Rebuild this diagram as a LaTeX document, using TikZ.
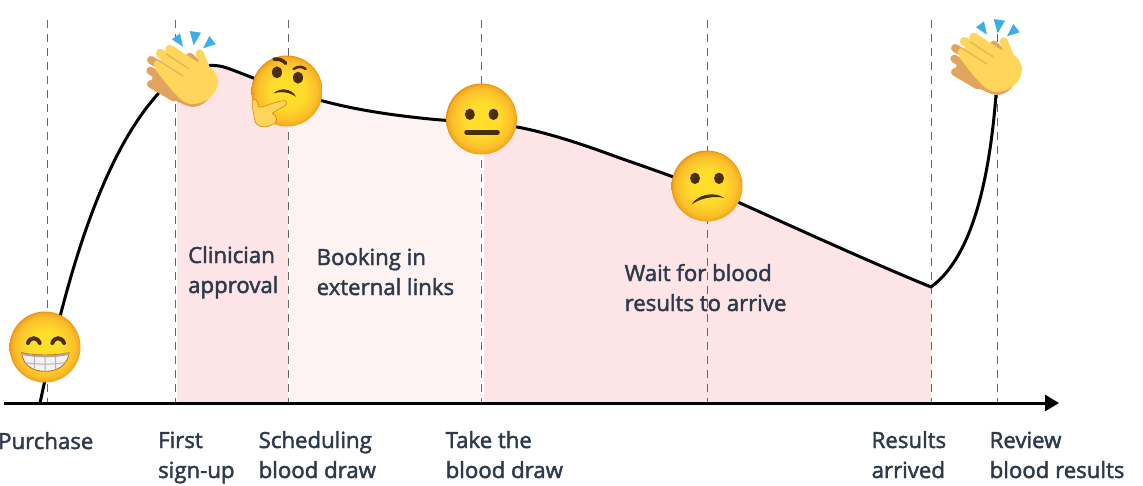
\documentclass[tikz,border=0pt]{standalone}
\usepackage{fontspec}
\setmainfont{Open Sans}[FakeBold=2]
\usepackage{xcolor}
\usepackage{tikz}
\usetikzlibrary{arrows.meta}
\definecolor{inkslate}{HTML}{2D3A4B}
\definecolor{pinkband}{HTML}{FDE4E6}
\definecolor{paleband}{HTML}{FDF3F3}
\definecolor{browndark}{HTML}{4A2F0E}
\definecolor{handfront}{HTML}{FFD65A}
\definecolor{handback}{HTML}{E0A45E}
\definecolor{handline}{HTML}{E8B45C}
\definecolor{sparkblue}{HTML}{3FAEE6}
\pgfdeclareradialshading{facegrad}{\pgfpoint{0bp}{0bp}}{rgb(0bp)=(1,0.88,0.16); rgb(12bp)=(1,0.86,0.17); rgb(21bp)=(0.98,0.75,0.17); rgb(24bp)=(0.96,0.67,0.12); rgb(25bp)=(0.91,0.57,0.05); rgb(50bp)=(0.91,0.57,0.05)}
\tikzset{
  lbl/.style={anchor=base west, align=left, inner sep=0pt, text=inkslate, font=\fontsize{22.2}{30}\selectfont},
  guide/.style={dash pattern=on 8pt off 6pt, line width=1.5pt, draw=black!60},
  eye/.style={fill=browndark},
  stroke/.style={draw=browndark, line cap=round},
  pics/facebase/.style={code={\shade[shading=facegrad] (0,0) circle (35.5);}},
  pics/grinface/.style={code={
    \pic {facebase};
    \begin{scope}[scale=1/3, shift={(-135,-140)}]
      \draw[stroke, line width=4pt] (84,128) .. controls (90,109) and (112,109) .. (119,128);
      \draw[stroke, line width=4pt] (157,128) .. controls (163,109) and (185,109) .. (192,128);
      \draw[draw=orange!80!black, line width=.8pt, fill=white!95!black] (65,157) .. controls (100,166) and (170,166) .. (207,157) .. controls (203,195) and (172,213) .. (135,213) .. controls (98,213) and (69,195) .. (65,157) -- cycle;
      \draw[black!30, line width=1pt] (103,164) -- (103,205) (135,166) -- (135,212) (167,164) -- (167,205) (72,186) .. controls (100,193) and (170,193) .. (198,186);
      \draw[black!35, line width=2pt] (65,160) .. controls (100,170) and (170,170) .. (207,160);
    \end{scope}
  }},
  pics/neutralface/.style={code={
    \pic {facebase};
    \begin{scope}[scale=1/3, shift={(-155,-147)}]
      \fill[eye] (120,133) ellipse (15 and 17);
      \fill[eye] (191,133) ellipse (15 and 17);
      \draw[stroke, line width=4.5pt] (110,187) -- (203,187);
    \end{scope}
  }},
  pics/frownface/.style={code={
    \pic {facebase};
    \begin{scope}[scale=1/3, shift={(-830,-348)}]
      \fill[eye] (794,325) ellipse (15 and 17);
      \fill[eye] (866,325) ellipse (15 and 17);
      \fill[browndark] (784,403) .. controls (800,375) and (850,362) .. (882,384) .. controls (850,376) and (810,385) .. (784,403) -- cycle;
    \end{scope}
  }},
  pics/thinkface/.style={code={
    \pic {facebase};
    \begin{scope}[scale=1/3, shift={(-472,-243)}]
      \fill[eye] (442,187) ellipse (15 and 18);
      \fill[eye] (505,203) ellipse (15 and 18);
      \draw[stroke, line width=3.5pt] (433,147) .. controls (448,146) and (460,150) .. (468,160);
      \draw[stroke, line width=2.5pt] (492,177) .. controls (505,168) and (518,169) .. (528,177);
      \fill[browndark] (432,250) .. controls (450,232) and (485,234) .. (499,260) .. controls (480,247) and (455,243) .. (432,250) -- cycle;
      \fill[handfront, draw=orange!90!black, line width=.5pt] (368,272) .. controls (376,262) and (384,272) .. (388,292) .. controls (410,290) and (440,272) .. (465,272) .. controls (476,274) and (470,288) .. (458,292) .. controls (445,298) and (435,305) .. (428,310) .. controls (445,320) and (446,340) .. (425,345) .. controls (405,356) and (380,352) .. (375,330) .. controls (372,310) and (366,290) .. (368,272) -- cycle;
    \end{scope}
  }},
  pics/claphand/.style={code={
    \begin{scope}[scale=1/3, shift={(-200,-225)}]
      \fill[sparkblue] (125,88) -- (149,70) -- (158,110) -- cycle;
      \fill[sparkblue] (178,63) -- (212,68) -- (190,106) -- cycle;
      \fill[sparkblue] (237,78) -- (256,103) -- (218,115) -- cycle;
      % back hand
      \begin{scope}[handback, line cap=round, line width=8pt]
        \draw (62,150) -- (130,190);
        \draw (60,182) -- (130,225);
        \draw (62,222) -- (130,262);
        \draw (178,140) -- (210,170);
      \end{scope}
      \fill[handback] (55,230) -- (80,170) -- (240,230) .. controls (250,265) and (215,292) .. (185,291) .. controls (165,288) and (150,280) .. (55,230) -- cycle;
      % front hand
      \begin{scope}[handfront, line cap=round]
        \draw[line width=9pt] (118,118) -- (190,165);
        \draw[line width=9pt] (90,130) -- (170,182);
        \draw[line width=9pt] (84,163) -- (160,212);
        \draw[line width=8pt] (208,130) -- (225,170);
      \end{scope}
      \fill[handfront] (75,178) -- (110,120) -- (200,155) .. controls (230,155) and (263,185) .. (263,215) .. controls (262,255) and (220,283) .. (185,282) .. controls (160,280) and (140,265) .. (75,178) -- cycle;
      \begin{scope}[handline, line cap=round, line width=1.5pt]
        \draw (108,132) -- (175,176);
        \draw (82,150) -- (158,198);
      \end{scope}
    \end{scope}
  }}
}
\newcommand{\moodcurve}{(40,403) .. controls (62,300) and (95,165) .. (157,95) .. controls (178,71) and (205,60) .. (227,68) .. controls (250,76) and (285,92) .. (323,101) .. controls (360,111) and (400,116) .. (430,119) .. controls (460,122) and (490,122) .. (517,127) .. controls (550,133) and (590,147) .. (617,157) .. controls (660,172) and (700,186) .. (740,203) .. controls (800,230) and (870,262) .. (931,287)}
\begin{document}
\begin{tikzpicture}[x=1pt, y=-1pt]
  \useasboundingbox (0,0) rectangle (1143,485);
  \begin{scope}
    \clip \moodcurve -- (931,403) -- (40,403) -- cycle;
    \fill[pinkband] (177,20) rectangle (288,403);
    \fill[paleband] (290,20) rectangle (480,403);
    \fill[pinkband] (484,20) rectangle (931,403);
  \end{scope}
  \foreach \xpos in {47.5,175.5,288.5,481.5,707.5,931.5,997.5}
    \draw[guide] (\xpos,20) -- (\xpos,403);
  \draw[line width=3pt, -{Triangle[length=14pt, width=16pt]}] (4,403) -- (1059,403);
  \draw[line width=3pt, line join=round] \moodcurve .. controls (975,255) and (990,170) .. (996,95);
  \pic at (45,347) {grinface};
  \pic at (197,85) {claphand};
  \pic at (287,91) {thinkface};
  \pic at (481.5,119) {neutralface};
  \pic at (707,186) {frownface};
  \pic at (1001,73) {claphand};
  \node[lbl] (clinician) at (188,293) {Clinician\\approval};
  \node[lbl] (booking) at (316.5,295) {Booking in\\external links};
  \node[lbl] (waiting) at (624.5,311) {Wait for blood\\results to arrive};
  \node[lbl] (purchase) at (-2,449) {Purchase};
  \node[lbl] (signup) at (158,478) {First\\sign-up};
  \node[lbl] (scheduling) at (258.5,478) {Scheduling\\blood draw};
  \node[lbl] (takedraw) at (445.5,478) {Take the\\blood draw};
  \node[lbl] (arrived) at (871.5,478) {Results\\arrived};
  \node[lbl] (review) at (989.5,478) {Review\\blood results};
\end{tikzpicture}
\end{document}
